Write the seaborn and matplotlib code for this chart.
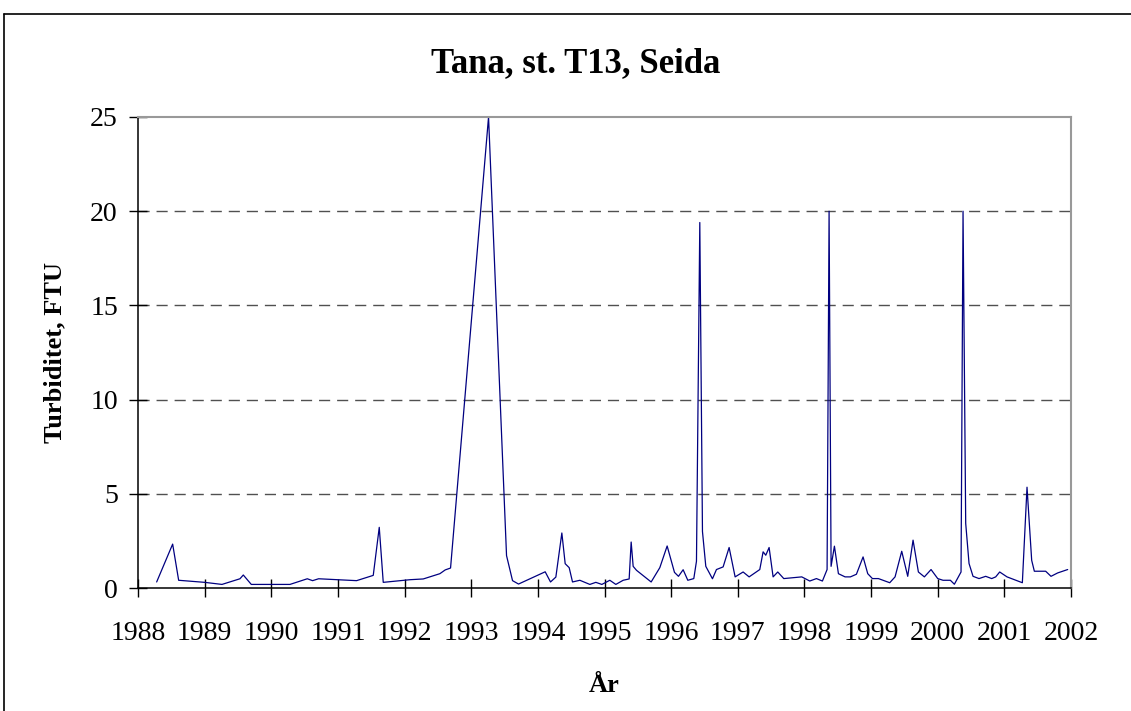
import matplotlib
matplotlib.use("Agg")
import matplotlib.pyplot as plt
from matplotlib.lines import Line2D
import seaborn as sns
import pandas as pd

# sampling dates (decimal years) and turbidity readings, FTU
years = [
    1988.28, 1988.52, 1988.61, 1989.00, 1989.26, 1989.53, 1989.58, 1989.70,
    1990.28, 1990.54, 1990.62, 1990.71, 1991.28, 1991.53, 1991.62, 1991.68,
    1992.08, 1992.28, 1992.53, 1992.61, 1992.69, 1993.26, 1993.53, 1993.62,
    1993.71, 1994.11, 1994.19, 1994.27, 1994.36, 1994.41, 1994.47, 1994.52,
    1994.63, 1994.78, 1994.87, 1994.96, 1995.08, 1995.17, 1995.28, 1995.37,
    1995.40, 1995.43, 1995.48, 1995.70, 1995.83, 1995.94, 1996.05, 1996.11,
    1996.18, 1996.25, 1996.34, 1996.38, 1996.43, 1996.47, 1996.52, 1996.62,
    1996.68, 1996.78, 1996.87, 1996.96, 1997.08, 1997.17, 1997.33, 1997.38,
    1997.42, 1997.47, 1997.53, 1997.60, 1997.69, 1997.96, 1998.08, 1998.18,
    1998.27, 1998.34, 1998.37, 1998.40, 1998.45, 1998.51, 1998.61, 1998.69,
    1998.78, 1998.88, 1998.95, 1999.02, 1999.11, 1999.28, 1999.36, 1999.46,
    1999.55, 1999.63, 1999.71, 1999.80, 1999.90, 2000.00, 2000.08, 2000.19,
    2000.25, 2000.35, 2000.38, 2000.42, 2000.47, 2000.53, 2000.62, 2000.72,
    2000.81, 2000.87, 2000.93, 2001.04, 2001.27, 2001.34, 2001.41, 2001.45,
    2001.62, 2001.70, 2001.80, 2001.95,
]
turbidity = [
    0.32, 2.33, 0.41, 0.30, 0.19, 0.49, 0.69, 0.19,
    0.19, 0.49, 0.39, 0.49, 0.39, 0.67, 3.22, 0.30,
    0.44, 0.48, 0.76, 0.96, 1.06, 25.0, 1.72, 0.39,
    0.21, 0.86, 0.32, 0.58, 2.92, 1.29, 1.08, 0.32,
    0.41, 0.19, 0.30, 0.19, 0.41, 0.19, 0.41, 0.48,
    2.44, 1.15, 0.94, 0.32, 1.08, 2.23, 0.83, 0.62,
    0.97, 0.41, 0.50, 1.42, 19.4, 3.00, 1.15, 0.49,
    0.98, 1.12, 2.15, 0.59, 0.85, 0.59, 0.98, 1.92,
    1.74, 2.15, 0.59, 0.85, 0.50, 0.59, 0.37, 0.50,
    0.37, 0.98, 20.0, 1.15, 2.22, 0.76, 0.59, 0.59,
    0.73, 1.65, 0.76, 0.50, 0.50, 0.28, 0.59, 1.95,
    0.62, 2.54, 0.85, 0.59, 0.98, 0.50, 0.41, 0.41,
    0.20, 0.85, 20.0, 3.43, 1.30, 0.62, 0.50, 0.62,
    0.50, 0.59, 0.85, 0.59, 0.28, 5.35, 1.47, 0.89,
    0.89, 0.62, 0.80, 0.98,
]
year_ticks = list(range(1988, 2003))
value_ticks = [0, 5, 10, 15, 20, 25]

df = pd.DataFrame({"year": years, "turbidity": turbidity})

sns.set_style("white")
plt.rcParams["font.family"] = ["Liberation Serif", "DejaVu Serif"]
plt.rcParams["text.color"] = "black"
plt.rcParams["axes.labelcolor"] = "black"

fig = plt.figure(figsize=(11.31, 7.11), dpi=100)
ax = fig.add_axes([138 / 1131, 123 / 711, 933 / 1131, 471 / 711])

sns.lineplot(
    data=df, x="year", y="turbidity", ax=ax,
    color="#000080", linewidth=0.9, estimator=None, sort=False,
)

ax.set_xlim(1988, 2002)
ax.set_ylim(0, 25)
ax.set_xticks(year_ticks)
ax.set_yticks(value_ticks)
ax.tick_params(axis="both", bottom=True, left=True, direction="inout",
               length=13, width=1, color="black", labelsize=20,
               labelcolor="black")
ax.tick_params(axis="x", pad=17)
ax.tick_params(axis="y", pad=8)

# dashed horizontal gridlines (not at the top edge)
for v in value_ticks[1:-1]:
    ax.axhline(v, color="#505050", linestyle=(0, (8, 5)), linewidth=1, zorder=0)

for side in ["left", "bottom"]:
    ax.spines[side].set_color("black")
    ax.spines[side].set_linewidth(1.1)
for side in ["top", "right"]:
    ax.spines[side].set_color("#999999")
    ax.spines[side].set_linewidth(1.5)

ax.set_xlabel("År", fontsize=19, fontweight="bold", color="black")
ax.set_ylabel("Turbiditet, FTU", fontsize=19, fontweight="bold", color="black")
ax.xaxis.set_label_coords(0.5, -0.208)
ax.yaxis.set_label_coords(-0.089, 0.5)
ax.xaxis.label.set_va("center")
ax.yaxis.label.set_va("center")

fig.text(576 / 1131, 1 - 64 / 711, "Tana, st. T13, Seida", color="black",
         ha="center", va="center", fontsize=25, fontweight="bold")

# outer chart-area border (left and top edges visible)
fig.add_artist(Line2D([4 / 1131, 4 / 1131], [0, 1 - 14 / 711],
                      transform=fig.transFigure, color="black", linewidth=1.2))
fig.add_artist(Line2D([4 / 1131, 1], [1 - 14 / 711, 1 - 14 / 711],
                      transform=fig.transFigure, color="black", linewidth=1.2))

fig.savefig("out.png", dpi=100)
